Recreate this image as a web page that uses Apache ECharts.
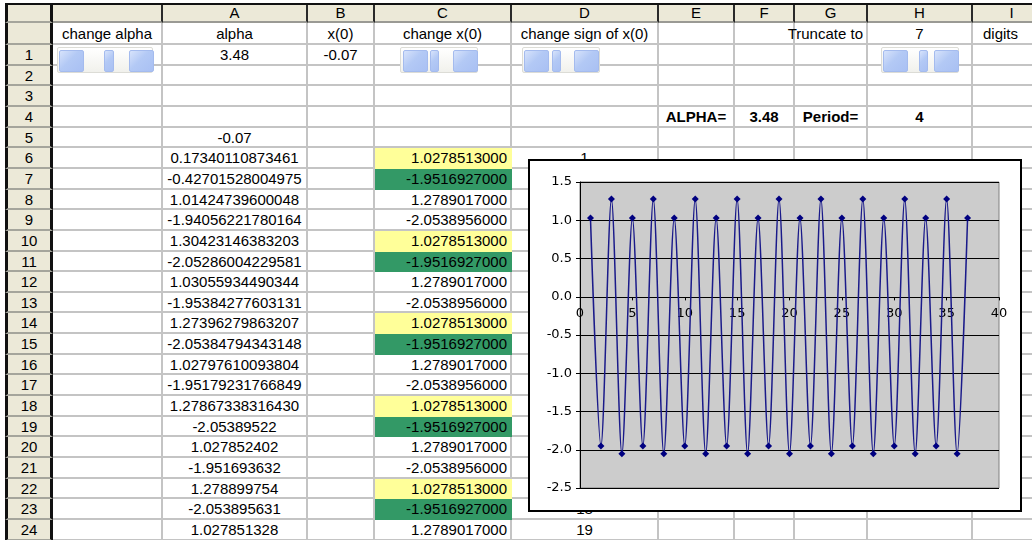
<!DOCTYPE html>
<html>
<head>
<meta charset="utf-8">
<script src="https://cdn.jsdelivr.net/npm/echarts@6/dist/echarts.min.js"></script>
<style>
  html, body { margin: 0; padding: 0; background: #fff; width: 1032px; height: 540px; overflow: hidden; }
  body { font-family: "Liberation Sans", Arial, sans-serif; position: relative; }
  .cell {
    position: absolute; box-sizing: border-box;
    border-right: 2px solid #c4c4c4; border-bottom: 2px solid #c4c4c4;
    font-size: 15px; color: #000; white-space: nowrap;
    display: flex; align-items: center; justify-content: center;
    padding: 0 3px;
  }
  .hdr { background: #ECE9D8; border-right: 2px solid #2a2a2a; border-bottom: 2px solid #9a9a94; }
  .rowhdr { background: #ECE9D8; border-left: 3px solid #111; border-right: 3px solid #111; border-bottom: 2px solid #a5a59c; }
  .topline { position: absolute; left: 5px; top: 3px; width: 1040px; height: 2px; background: #111; }
  .right { justify-content: flex-end; }
  .left { justify-content: flex-start; padding-left: 10px; }
  .bold { font-weight: bold; }
  .slider { position: absolute; box-sizing: border-box; height: 26px;
    background: linear-gradient(#ffffff, #f1f1ec); border: 1px solid #dcdcd6; border-radius: 2px; z-index: 3; }
  .btn { position: absolute; top: 2px; height: 22px; box-sizing: border-box;
    background: linear-gradient(135deg, #d7e3fb 0%, #b3c9f5 45%, #a9c0f3 100%);
    border: 1px solid #a4bbee; border-radius: 2px; }
  #chart { position: absolute; left: 528px; top: 159px; width: 494px; height: 353px;
    box-sizing: border-box; border: 2px solid #000; background: #fff; z-index: 5; }
</style>
</head>
<body>
<div id="sheet"></div>
<div id="chart"></div>
<script>
// ---- sheet contents ----
const columnLetters = ['', 'A', 'B', 'C', 'D', 'E', 'F', 'G', 'H', 'I'];
const labelRow = ['change alpha', 'alpha', 'x(0)', 'change x(0)', 'change sign of x(0)', '', '', 'Truncate to', '7', 'digits'];
const rowNumbers = ['1','2','3','4','5','6','7','8','9','10','11','12','13','14','15','16','17','18','19','20','21','22','23','24'];
const alphaValue = '3.48';
const x0Value = '-0.07';
const summaryRow = ['ALPHA=', '3.48', 'Period=', '4'];

// column A, rows 5..24: raw orbit
const orbitRaw = ['-0.07', '0.17340110873461', '-0.42701528004975', '1.01424739600048', '-1.94056221780164',
  '1.30423146383203', '-2.05286004229581', '1.03055934490344', '-1.95384277603131', '1.27396279863207',
  '-2.05384794343148', '1.02797610093804', '-1.95179231766849', '1.27867338316430', '-2.05389522',
  '1.027852402', '-1.951693632', '1.278899754', '-2.053895631', '1.027851328'];

// column C, rows 6..24: truncated orbit
const orbitTruncated = ['1.0278513000', '-1.9516927000', '1.2789017000', '-2.0538956000',
  '1.0278513000', '-1.9516927000', '1.2789017000', '-2.0538956000',
  '1.0278513000', '-1.9516927000', '1.2789017000', '-2.0538956000',
  '1.0278513000', '-1.9516927000', '1.2789017000', '-2.0538956000',
  '1.0278513000', '-1.9516927000', '1.2789017000'];

// column D, rows 6..24: step number
const stepNumbers = ['1','2','3','4','5','6','7','8','9','10','11','12','13','14','15','16','17','18','19'];

// ---- chart series ----
const steps = [1,2,3,4,5,6,7,8,9,10,11,12,13,14,15,16,17,18,19,20,21,22,23,24,25,26,27,28,29,30,31,32,33,34,35,36,37];
const orbit = [1.0278513, -1.9516927, 1.2789017, -2.0538956, 1.0278513, -1.9516927, 1.2789017, -2.0538956,
  1.0278513, -1.9516927, 1.2789017, -2.0538956, 1.0278513, -1.9516927, 1.2789017, -2.0538956,
  1.0278513, -1.9516927, 1.2789017, -2.0538956, 1.0278513, -1.9516927, 1.2789017, -2.0538956,
  1.0278513, -1.9516927, 1.2789017, -2.0538956, 1.0278513, -1.9516927, 1.2789017, -2.0538956,
  1.0278513, -1.9516927, 1.2789017, -2.0538956, 1.0278513];
const xTicks = { min: 0, max: 40, interval: 5 };
const yTicks = { min: -2.5, max: 1.5, interval: 0.5 };

// ---- sheet layout ----
const colEdges = [53, 163, 308, 375, 512, 659, 735, 795, 868, 973, 1052];
const headerTop = 4, headerBottom = 23, labelBottom = 45, rowH = 20.65;
const rowTop = n => Math.round(labelBottom + (n - 1) * rowH);

const sheet = document.getElementById('sheet');
function cell(x0, x1, y0, y1, text, cls, style) {
  const d = document.createElement('div');
  d.className = 'cell' + (cls ? ' ' + cls : '');
  d.style.left = x0 + 'px'; d.style.top = y0 + 'px';
  d.style.width = (x1 - x0) + 'px'; d.style.height = (y1 - y0) + 'px';
  if (style) Object.assign(d.style, style);
  d.textContent = text;
  sheet.appendChild(d);
  return d;
}

// header row
cell(5, 53, headerTop, headerBottom, '', 'rowhdr');
columnLetters.forEach((t, j) => cell(colEdges[j], colEdges[j + 1], headerTop, headerBottom, t, 'hdr'));
const tl = document.createElement('div'); tl.className = 'topline'; sheet.appendChild(tl);

// label row
cell(5, 53, headerBottom, labelBottom, '', 'rowhdr');
labelRow.forEach((t, j) => {
  let cls = '';
  if (t === 'Truncate to') cls = 'right';
  if (t === 'digits') cls = 'left';
  cell(colEdges[j], colEdges[j + 1], headerBottom, labelBottom, t, cls);
});

// numbered rows
rowNumbers.forEach((label, i) => {
  const n = i + 1, y0 = rowTop(n), y1 = rowTop(n + 1);
  cell(5, 53, y0, y1, label, 'rowhdr');
  for (let j = 0; j < columnLetters.length; j++) {
    let text = '', cls = '', style = null;
    if (n === 1 && j === 1) text = alphaValue;
    if (n === 1 && j === 2) text = x0Value;
    if (n === 4 && j >= 5 && j <= 8) { text = summaryRow[j - 5]; cls = 'bold'; }
    if (j === 1 && n >= 5) text = orbitRaw[n - 5];
    if (j === 3 && n >= 6) {
      text = orbitTruncated[n - 6]; cls = 'right';
      const v = parseFloat(text);
      if (v === 1.0278513) style = { background: '#FFFF99', borderRightColor: '#FFFF99', borderBottomColor: '#FFFF99' };
      if (v === -1.9516927) style = { background: '#339966', borderRightColor: '#339966', borderBottomColor: '#339966' };
    }
    if (j === 4 && n >= 6) text = stepNumbers[n - 6];
    cell(colEdges[j], colEdges[j + 1], y0, y1, text, cls, style);
  }
});

// scroll-bar form controls
const sliders = [
  { x: 57, w: 96, left: 1, thumb: 46, thumbW: 10, right: 71 },
  { x: 400, w: 78, left: 2, thumb: 29, thumbW: 9, right: 52 },
  { x: 522, w: 78, left: 1, thumb: 29, thumbW: 9, right: 51 },
  { x: 881, w: 78, left: 1, thumb: 37, thumbW: 9, right: 52 }
];
sliders.forEach(s => {
  const d = document.createElement('div');
  d.className = 'slider';
  d.style.left = s.x + 'px'; d.style.top = '47px'; d.style.width = s.w + 'px';
  [[s.left, 25], [s.thumb, s.thumbW], [s.right, 25]].forEach(([x, w]) => {
    const b = document.createElement('div');
    b.className = 'btn';
    b.style.left = x + 'px'; b.style.width = w + 'px';
    d.appendChild(b);
  });
  sheet.appendChild(d);
});

// ---- chart ----
const chart = echarts.init(document.getElementById('chart'), null, { renderer: 'canvas' });
const axisFont = { fontFamily: 'DejaVu Sans', fontSize: 13, color: '#000' };
const option = {
  animation: false,
  grid: { left: 50, top: 21, width: 419, height: 306, show: true,
    backgroundColor: '#CCCCCC', borderColor: '#808080', borderWidth: 1 },
  xAxis: {
    type: 'value', min: xTicks.min, max: xTicks.max, interval: xTicks.interval,
    position: 'bottom', offset: 0, z: 3,
    axisLine: { show: true, onZero: false, lineStyle: { color: '#000', width: 1 } },
    axisTick: { show: true, length: 3, lineStyle: { color: '#000' } },
    axisLabel: Object.assign({ margin: 10, showMinLabel: true, showMaxLabel: true }, axisFont),
    splitLine: { show: false }
  },
  yAxis: {
    type: 'value', min: yTicks.min, max: yTicks.max, interval: yTicks.interval,
    axisLine: { show: true, onZero: false, lineStyle: { color: '#000', width: 1 } },
    axisTick: { show: true, length: 4, lineStyle: { color: '#000' } },
    axisLabel: Object.assign({ margin: 8, formatter: v => v.toFixed(1) }, axisFont),
    splitLine: { show: true, lineStyle: { color: '#000', width: 1 } }
  },
  series: [{
    type: 'line',
    data: steps.map((s, i) => [s, orbit[i]]),
    smooth: 0.3,
    symbol: 'diamond', symbolSize: 7, showAllSymbol: true,
    itemStyle: { color: '#000080' },
    lineStyle: { color: '#1a1a8a', width: 1.5 }
  }]
};
chart.setOption(option);

// the step axis crosses the value axis at zero: lift it (labels included)
// from the bottom edge of the plot up to the y = 0 line
const bottomPx = chart.convertToPixel({ yAxisIndex: 0 }, yTicks.min);
const zeroPx = chart.convertToPixel({ yAxisIndex: 0 }, 0);
chart.setOption({ xAxis: { offset: -(bottomPx - zeroPx) } });
</script>
</body>
</html>
